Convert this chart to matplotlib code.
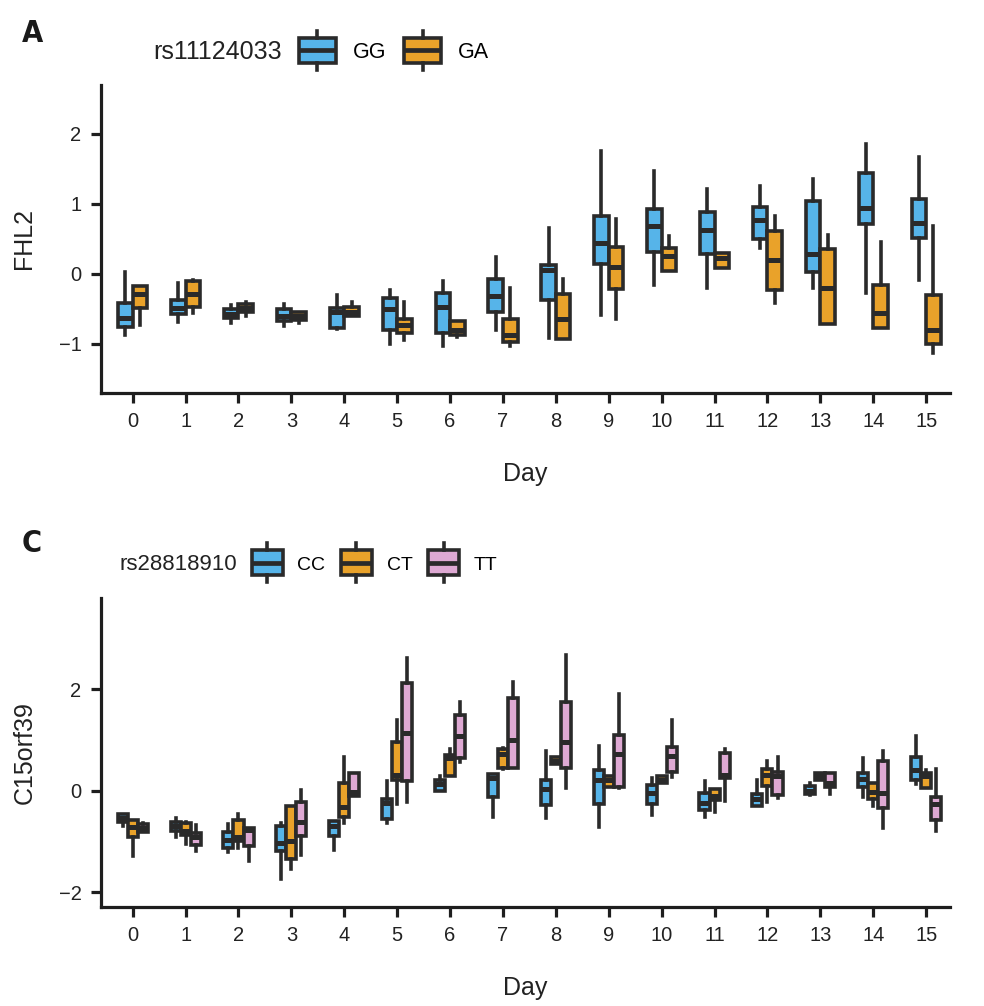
import numpy as np
import matplotlib.pyplot as plt
from matplotlib.patches import Patch, Rectangle
from matplotlib.lines import Line2D
from matplotlib.legend_handler import HandlerBase

plt.rcParams['font.family'] = ['Liberation Sans', 'DejaVu Sans']

# ---- data: whisker low, q1, median, q3, whisker high per day
days = list(range(16))

fhl2_gg_lo  = [-0.87, -0.69, -0.70, -0.74, -0.79, -1.01, -1.04, -0.81, -0.92, -0.59, -0.16, -0.20, 0.37, -0.20, -0.27, -0.09]
fhl2_gg_q1  = [-0.76, -0.58, -0.63, -0.67, -0.77, -0.80, -0.85, -0.54, -0.38, 0.14, 0.31, 0.28, 0.50, 0.02, 0.71, 0.51]
fhl2_gg_med = [-0.63, -0.49, -0.57, -0.61, -0.55, -0.50, -0.48, -0.32, 0.05, 0.44, 0.69, 0.62, 0.77, 0.29, 0.94, 0.73]
fhl2_gg_q3  = [-0.42, -0.37, -0.50, -0.50, -0.49, -0.35, -0.27, -0.08, 0.13, 0.83, 0.92, 0.88, 0.95, 1.04, 1.44, 1.07]
fhl2_gg_hi  = [0.03, -0.13, -0.44, -0.43, -0.30, -0.23, -0.11, 0.24, 0.66, 1.75, 1.47, 1.21, 1.25, 1.35, 1.85, 1.67]

fhl2_ga_lo  = [-0.73, -0.56, -0.61, -0.70, -0.61, -0.95, -0.90, -1.04, -0.93, -0.64, 0.04, 0.08, -0.42, -0.72, -0.77, -1.14]
fhl2_ga_q1  = [-0.49, -0.47, -0.55, -0.66, -0.61, -0.85, -0.87, -0.97, -0.93, -0.22, 0.04, 0.08, -0.23, -0.72, -0.77, -1.00]
fhl2_ga_med = [-0.29, -0.29, -0.49, -0.60, -0.54, -0.73, -0.81, -0.88, -0.64, 0.09, 0.26, 0.22, 0.19, -0.21, -0.56, -0.80]
fhl2_ga_q3  = [-0.17, -0.11, -0.43, -0.55, -0.47, -0.64, -0.67, -0.65, -0.29, 0.39, 0.37, 0.30, 0.61, 0.36, -0.16, -0.31]
fhl2_ga_hi  = [-0.17, -0.09, -0.41, -0.55, -0.40, -0.40, -0.67, -0.20, -0.07, 0.79, 0.54, 0.30, 0.82, 0.56, 0.46, 0.68]

c15_cc_lo  = [-0.69, -0.91, -1.21, -1.74, -1.17, -0.64, -0.01, -0.53, -0.54, -0.72, -0.49, -0.53, -0.31, -0.09, -0.12, 0.13]
c15_cc_q1  = [-0.61, -0.79, -1.14, -1.19, -0.89, -0.56, -0.01, -0.12, -0.28, -0.26, -0.26, -0.38, -0.31, -0.07, 0.08, 0.20]
c15_cc_med = [-0.55, -0.70, -0.97, -1.04, -0.70, -0.25, 0.13, 0.24, 0.03, 0.21, -0.05, -0.25, -0.17, 0.00, 0.22, 0.41]
c15_cc_q3  = [-0.46, -0.61, -0.82, -0.70, -0.60, -0.17, 0.21, 0.32, 0.21, 0.41, 0.11, -0.04, -0.07, 0.09, 0.34, 0.66]
c15_cc_hi  = [-0.46, -0.54, -0.66, -0.64, -0.60, 0.18, 0.28, 0.32, 0.79, 0.88, 0.24, 0.19, 0.20, 0.16, 0.64, 1.08]

c15_ct_lo  = [-1.29, -1.05, -1.14, -1.54, -0.64, -0.27, 0.28, 0.42, 0.53, 0.08, 0.15, -0.43, -0.22, 0.20, -0.30, 0.05]
c15_ct_q1  = [-0.92, -0.87, -1.00, -1.35, -0.53, 0.21, 0.28, 0.44, 0.53, 0.08, 0.15, -0.18, 0.10, 0.20, -0.17, 0.05]
c15_ct_med = [-0.71, -0.79, -0.91, -1.00, -0.33, 0.31, 0.64, 0.72, 0.58, 0.20, 0.20, -0.10, 0.30, 0.28, -0.02, 0.28]
c15_ct_q3  = [-0.58, -0.64, -0.58, -0.30, 0.16, 0.95, 0.70, 0.82, 0.66, 0.28, 0.28, 0.03, 0.42, 0.35, 0.15, 0.35]
c15_ct_hi  = [-0.58, -0.61, -0.46, -0.30, 0.66, 1.39, 0.82, 0.84, 0.66, 0.28, 0.28, 0.03, 0.59, 0.35, 0.15, 0.41]

c15_tt_lo  = [-0.81, -1.19, -1.39, -1.27, -0.10, -0.22, 0.57, 0.45, 0.05, 0.05, 0.26, -0.20, -0.15, -0.07, -0.74, -0.79]
c15_tt_q1  = [-0.81, -1.08, -1.10, -0.89, -0.10, 0.18, 0.65, 0.45, 0.45, 0.08, 0.37, 0.24, -0.08, 0.08, -0.35, -0.58]
c15_tt_med = [-0.74, -0.91, -0.77, -0.61, -0.02, 1.13, 1.08, 0.99, 0.95, 0.72, 0.68, 0.30, 0.28, 0.16, -0.05, -0.27]
c15_tt_q3  = [-0.66, -0.84, -0.73, -0.23, 0.34, 2.13, 1.49, 1.82, 1.74, 1.10, 0.87, 0.74, 0.37, 0.34, 0.59, -0.12]
c15_tt_hi  = [-0.63, -0.68, -0.73, 0.01, 0.34, 2.61, 1.75, 2.15, 2.67, 1.90, 1.39, 0.82, 0.67, 0.34, 0.79, 0.43]

BLUE = '#56B4E9'
ORANGE = '#E9A22A'
PINK = '#DEA9D3'
EDGE = '#2a2a2a'
LW = 2.6


class BoxHandler(HandlerBase):
    # little box-with-whiskers legend key
    def create_artists(self, legend, orig_handle, xdescent, ydescent,
                       width, height, fontsize, trans):
        cy = height / 2 - ydescent
        x0 = -xdescent
        bh, wh = 9.0, 14.0
        rect = Rectangle((x0, cy - bh), width, 2 * bh,
                         facecolor=orig_handle.get_facecolor(),
                         edgecolor=EDGE, linewidth=LW, transform=trans)
        med = Line2D([x0, x0 + width], [cy, cy], color=EDGE, lw=3.4,
                     solid_capstyle='butt', transform=trans)
        xc = x0 + width / 2
        w1 = Line2D([xc, xc], [cy + bh, cy + wh], color=EDGE, lw=LW, transform=trans)
        w2 = Line2D([xc, xc], [cy - bh, cy - wh], color=EDGE, lw=LW, transform=trans)
        return [rect, med, w1, w2]


def draw_boxes(ax, series, colors, width):
    n = len(series)
    offsets = (np.arange(n) - (n - 1) / 2) * width
    for (lo, q1, med, q3, hi), col, off in zip(series, colors, offsets):
        stats = [dict(whislo=a, q1=b, med=c, q3=d, whishi=e)
                 for a, b, c, d, e in zip(lo, q1, med, q3, hi)]
        ax.bxp(stats, positions=np.array(days) + off, widths=width,
               patch_artist=True, showcaps=False, showfliers=False,
               manage_ticks=False,
               boxprops=dict(facecolor=col, edgecolor=EDGE, linewidth=LW),
               medianprops=dict(color=EDGE, linewidth=3.6, solid_capstyle='butt'),
               whiskerprops=dict(color=EDGE, linewidth=LW))


def style(ax, ylabel, yticks, ylim):
    for s in ['top', 'right']:
        ax.spines[s].set_visible(False)
    for s in ['left', 'bottom']:
        ax.spines[s].set_linewidth(2.3)
        ax.spines[s].set_color('#1e1e1e')
    ax.tick_params(axis='both', length=7, width=2.3, color='#1e1e1e',
                   labelsize=14.5, pad=7, labelcolor='#222222')
    ax.set_xticks(days)
    ax.set_xlim(-0.6, 15.45)
    ax.set_yticks(yticks)
    ax.set_yticklabels([str(t).replace('-', '\u2212') for t in yticks])
    ax.set_ylim(*ylim)
    ax.set_xlabel('Day', fontsize=18, labelpad=22, color='#222222')
    ax.set_ylabel(ylabel, fontsize=18, labelpad=16, color='#222222')


fig = plt.figure(figsize=(9.84, 10.06), dpi=100)
ax1 = fig.add_axes([0.1026, 0.6097, 0.8628, 0.3058])
ax2 = fig.add_axes([0.1026, 0.0987, 0.8628, 0.3069])

# panel A
draw_boxes(ax1,
           [(fhl2_gg_lo, fhl2_gg_q1, fhl2_gg_med, fhl2_gg_q3, fhl2_gg_hi),
            (fhl2_ga_lo, fhl2_ga_q1, fhl2_ga_med, fhl2_ga_q3, fhl2_ga_hi)],
           [BLUE, ORANGE], 0.275)
style(ax1, 'FHL2', [-1, 0, 1, 2], (-1.70, 2.70))
ax1.legend(handles=[Patch(facecolor=BLUE), Patch(facecolor=ORANGE)],
           labels=['GG', 'GA'], handler_map={Patch: BoxHandler()},
           ncol=2, loc='center left', bbox_to_anchor=(0.233, 1.106),
           frameon=False, fontsize=15.5, handlelength=1.72, handletextpad=0.78,
           columnspacing=0.85, borderpad=0, borderaxespad=0)
ax1.text(0.213, 1.106, 'rs11124033', transform=ax1.transAxes, ha='right',
         va='center', fontsize=18, color='#222222')

# panel C
draw_boxes(ax2,
           [(c15_cc_lo, c15_cc_q1, c15_cc_med, c15_cc_q3, c15_cc_hi),
            (c15_ct_lo, c15_ct_q1, c15_ct_med, c15_ct_q3, c15_ct_hi),
            (c15_tt_lo, c15_tt_q1, c15_tt_med, c15_tt_q3, c15_tt_hi)],
           [BLUE, ORANGE, PINK], 0.19)
style(ax2, 'C15orf39', [-2, 0, 2], (-2.29, 3.80))
ax2.legend(handles=[Patch(facecolor=BLUE), Patch(facecolor=ORANGE), Patch(facecolor=PINK)],
           labels=['CC', 'CT', 'TT'], handler_map={Patch: BoxHandler()},
           ncol=3, loc='center left', bbox_to_anchor=(0.1775, 1.107),
           frameon=False, fontsize=14, handlelength=1.6, handletextpad=0.75,
           columnspacing=0.8, borderpad=0, borderaxespad=0)
ax2.text(0.16, 1.107, 'rs28818910', transform=ax2.transAxes, ha='right',
         va='center', fontsize=16, color='#222222')

# panel letters
for letter, ypix in [('A', 33), ('C', 544)]:
    fig.text(22 / 984, 1 - ypix / 1006, letter, fontsize=22, fontweight='bold',
             family=['Liberation Sans Narrow', 'DejaVu Sans'], ha='left',
             va='center', color='#1a1a1a', fontstretch='condensed')

fig.savefig('out.png', dpi=100)
